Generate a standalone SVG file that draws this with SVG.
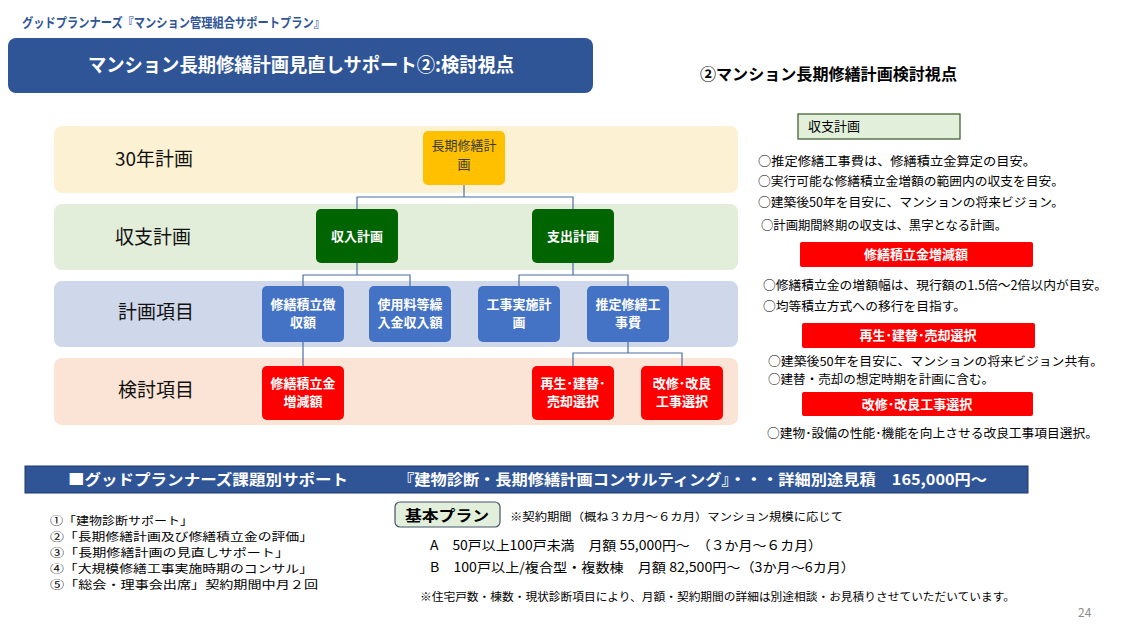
<svg xmlns="http://www.w3.org/2000/svg" width="1132" height="633" viewBox="0 0 1132 633">
<style>
text{font-family:"Noto Sans CJK JP","Liberation Sans",sans-serif;}
.band{stroke:none;}
.bl{font-size:19px;fill:#111;}
.nd{font-size:13px;fill:#fff;font-weight:bold;text-anchor:middle;}
.bul{font-size:12.5px;fill:#000;}
.rb{fill:#FF0000;}
.rbt{font-size:13px;fill:#fff;font-weight:bold;text-anchor:middle;}
.cn{fill:none;stroke:#4A6FA5;stroke-width:1.2;}
.li{font-size:11px;fill:#000;}
</style>
<rect width="1132" height="633" fill="#fff"/>
<text x="22" y="27" font-size="13" fill="#2F5597" font-weight="bold" textLength="303" lengthAdjust="spacingAndGlyphs">グッドプランナーズ『マンション管理組合サポートプラン』</text>
<g id="title">
<rect x="8" y="38" width="585" height="55" rx="8" fill="#2F5597"/>
<text x="301" y="72" font-size="19" fill="#fff" font-weight="bold" text-anchor="middle" textLength="426" lengthAdjust="spacingAndGlyphs">マンション長期修繕計画見直しサポート②:検討視点</text>
</g>
<text x="700" y="80" font-size="16" fill="#000" font-weight="bold" textLength="257" lengthAdjust="spacingAndGlyphs">②マンション長期修繕計画検討視点</text>

<g id="bands">
<rect class="band" x="54" y="126" width="684" height="67" rx="8" fill="#FDF1D3"/>
<rect class="band" x="54" y="204" width="684" height="66" rx="8" fill="#E3EEDA"/>
<rect class="band" x="54" y="281" width="684" height="66" rx="8" fill="#CFD7EB"/>
<rect class="band" x="54" y="358" width="684" height="67" rx="8" fill="#FBE4D6"/>
<text class="bl" x="115" y="166" font-size="20">30年計画</text>
<text class="bl" x="115" y="244" font-size="21">収支計画</text>
<text class="bl" x="118" y="319">計画項目</text>
<text class="bl" x="118" y="397">検討項目</text>
</g>

<g id="connectors">
<path class="cn" d="M464,185 V197 M357,209 V197 H573 V209"/>
<path class="cn" d="M357,263 V275 M303,286 V275 H410 V286"/>
<path class="cn" d="M573,263 V275 M519,286 V275 H628 V286"/>
<path class="cn" d="M303,342 V366"/>
<path class="cn" d="M628,342 V353 M573,366 V353 H682 V366"/>
</g>

<g id="n-choki">
<rect x="423" y="131" width="82" height="54" rx="5" fill="#FFC000"/>
<text x="464" y="150" class="nd" style="fill:#3a3a3a;font-weight:normal">長期修繕計</text>
<text x="464" y="169" class="nd" style="fill:#3a3a3a;font-weight:normal">画</text>
</g>
<g id="n-shunyu">
<rect x="316" y="209" width="82" height="54" rx="5" fill="#006400"/>
<text x="357" y="241" class="nd">収入計画</text>
</g>
<g id="n-shishutsu">
<rect x="532" y="209" width="82" height="54" rx="5" fill="#006400"/>
<text x="573" y="241" class="nd">支出計画</text>
</g>
<g id="n-choshu">
<rect x="262" y="286" width="82" height="56" rx="5" fill="#4472C4"/>
<text x="303" y="309" class="nd">修繕積立徴</text>
<text x="303" y="327" class="nd">収額</text>
</g>
<g id="n-shiyoryo">
<rect x="369" y="286" width="82" height="56" rx="5" fill="#4472C4"/>
<text x="410" y="309" class="nd">使用料等繰</text>
<text x="410" y="327" class="nd">入金収入額</text>
</g>
<g id="n-koji">
<rect x="478" y="286" width="82" height="56" rx="5" fill="#4472C4"/>
<text x="519" y="309" class="nd">工事実施計</text>
<text x="519" y="327" class="nd">画</text>
</g>
<g id="n-suitei">
<rect x="587" y="286" width="82" height="56" rx="5" fill="#4472C4"/>
<text x="628" y="309" class="nd">推定修繕工</text>
<text x="628" y="327" class="nd">事費</text>
</g>
<g id="n-zogen">
<rect x="262" y="366" width="82" height="54" rx="5" fill="#FF0000"/>
<text x="303" y="388" class="nd">修繕積立金</text>
<text x="303" y="406" class="nd">増減額</text>
</g>
<g id="n-saisei">
<rect x="532" y="366" width="82" height="54" rx="5" fill="#FF0000"/>
<text x="573" y="388" class="nd">再生･建替･</text>
<text x="573" y="406" class="nd">売却選択</text>
</g>
<g id="n-kaishu">
<rect x="641" y="366" width="82" height="54" rx="5" fill="#FF0000"/>
<text x="682" y="388" class="nd">改修･改良</text>
<text x="682" y="406" class="nd">工事選択</text>
</g>

<g id="right-panel">
<rect x="798" y="114" width="162" height="25" fill="#E2EFDA" stroke="#375623" stroke-width="1.2"/>
<text x="808" y="131" font-size="13" fill="#000">収支計画</text>
<text class="bul" x="758" y="166" textLength="278" lengthAdjust="spacingAndGlyphs">○推定修繕工事費は、修繕積立金算定の目安。</text>
<text class="bul" x="758" y="186" textLength="306" lengthAdjust="spacingAndGlyphs">○実行可能な修繕積立金増額の範囲内の収支を目安。</text>
<text class="bul" x="758" y="207" textLength="306" lengthAdjust="spacingAndGlyphs">○建築後50年を目安に、マンションの将来ビジョン。</text>
<text class="bul" x="761" y="230" textLength="246" lengthAdjust="spacingAndGlyphs">○計画期間終期の収支は、黒字となる計画。</text>
<rect class="rb" x="800" y="242" width="233" height="25" rx="2"/>
<text class="rbt" x="916" y="259">修繕積立金増減額</text>
<text class="bul" x="763" y="290" textLength="344" lengthAdjust="spacingAndGlyphs">○修繕積立金の増額幅は、現行額の1.5倍～2倍以内が目安。</text>
<text class="bul" x="763" y="311" textLength="203" lengthAdjust="spacingAndGlyphs">○均等積立方式への移行を目指す。</text>
<rect class="rb" x="802" y="323" width="233" height="25" rx="2"/>
<text class="rbt" x="918" y="340">再生･建替･売却選択</text>
<text class="bul" x="768" y="366" style="font-size:12px" textLength="335" lengthAdjust="spacingAndGlyphs">○建築後50年を目安に、マンションの将来ビジョン共有。</text>
<text class="bul" x="768" y="384" style="font-size:12px" textLength="226" lengthAdjust="spacingAndGlyphs">○建替・売却の想定時期を計画に含む。</text>
<rect class="rb" x="802" y="392" width="231" height="24" rx="2"/>
<text class="rbt" x="917" y="409">改修･改良工事選択</text>
<text class="bul" x="767" y="438" textLength="331" lengthAdjust="spacingAndGlyphs">○建物･設備の性能･機能を向上させる改良工事項目選択。</text>
</g>

<g id="banner">
<rect x="25" y="466" width="1003" height="27" fill="#2F5597" stroke="#1F3864" stroke-width="1"/>
<text x="68" y="485" font-size="15" fill="#fff" font-weight="bold" textLength="280" lengthAdjust="spacingAndGlyphs">■グッドプランナーズ課題別サポート</text>
<text x="398" y="485" font-size="15" fill="#fff" font-weight="bold" textLength="589" lengthAdjust="spacingAndGlyphs">『建物診断・長期修繕計画コンサルティング』・・・詳細別途見積　165,000円～</text>
</g>

<g id="list">
<text class="li" x="50" y="525" textLength="143" lengthAdjust="spacingAndGlyphs">①「建物診断サポート」</text>
<text class="li" x="50" y="541" textLength="263" lengthAdjust="spacingAndGlyphs">②「長期修繕計画及び修繕積立金の評価」</text>
<text class="li" x="50" y="557" textLength="239" lengthAdjust="spacingAndGlyphs">③「長期修繕計画の見直しサポート」</text>
<text class="li" x="50" y="573" textLength="263" lengthAdjust="spacingAndGlyphs">④「大規模修繕工事実施時期のコンサル」</text>
<text class="li" x="50" y="589" textLength="268" lengthAdjust="spacingAndGlyphs">⑤「総会・理事会出席」契約期間中月２回</text>
</g>

<g id="plan">
<rect x="395" y="502" width="105" height="25" rx="5" fill="#E2EFDA" stroke="#44546A" stroke-width="1.2"/>
<text x="405" y="521" font-size="15" font-weight="bold" fill="#000" textLength="84" lengthAdjust="spacingAndGlyphs">基本プラン</text>
<text x="510" y="521" font-size="11" fill="#000" textLength="333" lengthAdjust="spacingAndGlyphs">※契約期間（概ね３カ月～６カ月）マンション規模に応じて</text>
<text x="430" y="550" font-size="13" fill="#000" textLength="392" lengthAdjust="spacingAndGlyphs">A　50戸以上100戸未満　月額 55,000円～　（３か月～６カ月）</text>
<text x="430" y="572" font-size="13" fill="#000" textLength="425" lengthAdjust="spacingAndGlyphs">B　100戸以上/複合型・複数棟　月額 82,500円～（3か月～6カ月）</text>
<text x="420" y="601" font-size="11" fill="#000" textLength="595" lengthAdjust="spacingAndGlyphs">※住宅戸数・棟数・現状診断項目により、月額・契約期間の詳細は別途相談・お見積りさせていただいています。</text>
</g>
<text x="1078" y="617" font-size="12" fill="#8C8C8C">24</text>
</svg>
